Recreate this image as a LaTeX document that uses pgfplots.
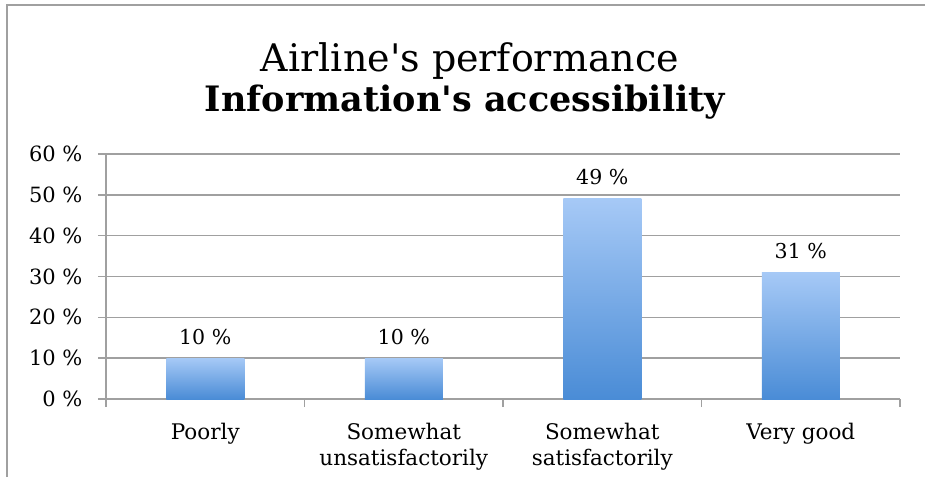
\documentclass[border=0pt]{standalone}
\usepackage{pgfplots}
\pgfplotsset{compat=1.18}
\usepackage{fontspec}
\setmainfont{DejaVu Serif}
\definecolor{barTop}{HTML}{A6C9F6}
\definecolor{barBot}{HTML}{4A8CD6}
\definecolor{gridc}{HTML}{A0A0A0}
\pgfplotsset{onebar/.style={ybar, bar width=78pt, draw=none, top color=barTop, bottom color=barBot}}

\begin{document}
\begin{tikzpicture}[x=1pt,y=1pt]
\path[use as bounding box] (0,0) rectangle (925,477);
\draw[gridc, line width=2pt] (7,0) -- (7,472) -- (925,472);
\node[anchor=base, font=\fontsize{38}{44}\selectfont] at (470,405) {Airline\textquotesingle s performance};
\node[anchor=base, font=\fontsize{35}{40}\selectfont\bfseries] at (465,365) {Information\textquotesingle s accessibility};
\begin{axis}[
	at={(106pt,78pt)}, anchor=south west,
	scale only axis, width=794pt, height=245pt,
	xmin=-0.5, xmax=3.5, ymin=0, ymax=60,
	axis x line*=bottom, axis y line*=left,
	axis line style={gridc, line width=1.5pt},
	ytick={0,10,...,60},
	yticklabel={\pgfmathprintnumber[assume math mode=true]{\tick}\ \%},
	yticklabel style={font=\fontsize{21}{24}\selectfont, xshift=-12pt},
	ymajorgrids, grid style={gridc, line width=1.5pt},
	tick align=outside, major tick length=8pt,
	tick style={gridc, line width=1.5pt},
	xtick={-0.5,0.5,1.5,2.5,3.5}, xticklabels={},
	extra x ticks={0,1,2,3},
	extra x tick labels={Poorly, Somewhat\\unsatisfactorily, Somewhat\\satisfactorily, Very good},
	extra x tick style={major tick length=0pt, grid=none},
	xticklabel style={font=\fontsize{21.5}{26}\selectfont, align=center, anchor=north, yshift=-21pt},
]
	% bars, one plot each so that each gets its own gradient
	\addplot[onebar] coordinates {(0,10)};
	\addplot[onebar] coordinates {(1,10)};
	\addplot[onebar] coordinates {(2,49)};
	\addplot[onebar] coordinates {(3,31)};
	% value labels
	\addplot[draw=none, mark=none, nodes near coords={\pgfmathprintnumber[assume math mode=true]{\pgfplotspointmeta}\ \%},
		every node near coord/.append style={anchor=base, yshift=14pt, text=black, font=\fontsize{20.5}{24}\selectfont}]
		coordinates {(0,10) (1,10) (2,49) (3,31)};
\end{axis}
\end{tikzpicture}
\end{document}
